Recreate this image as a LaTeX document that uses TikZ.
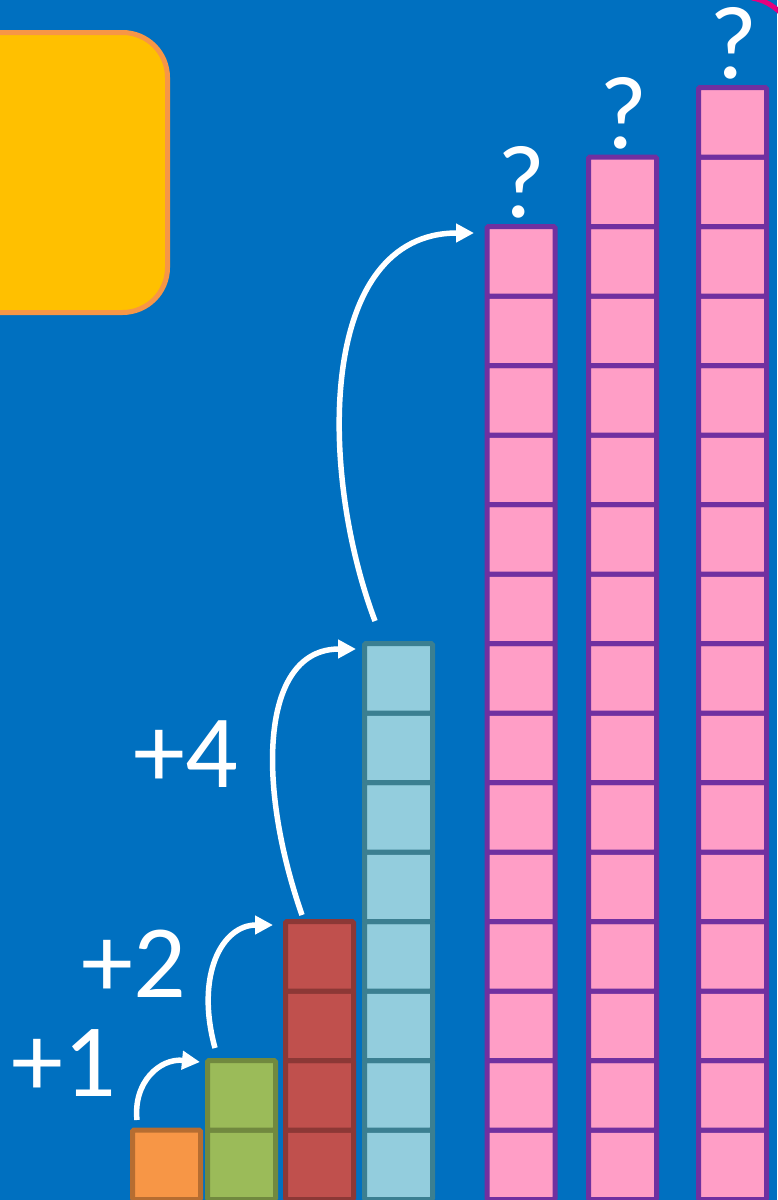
\documentclass[tikz,border=0pt]{standalone}
\usepackage{fontspec}
\setmainfont{Carlito}
\usetikzlibrary{arrows.meta}
\definecolor{bg}{HTML}{0070C0}
\definecolor{ybox}{HTML}{FFC000}
\definecolor{yboxline}{HTML}{F79646}
\definecolor{oF}{HTML}{F79646}\definecolor{oD}{HTML}{B66D31}
\definecolor{gF}{HTML}{9BBB59}\definecolor{gD}{HTML}{71893F}
\definecolor{rF}{HTML}{C0504D}\definecolor{rD}{HTML}{8C3836}
\definecolor{bF}{HTML}{93CDDD}\definecolor{bD}{HTML}{3B7F91}
\definecolor{pF}{HTML}{FF9EC6}\definecolor{pD}{HTML}{7030A0}
\definecolor{corner}{HTML}{E6007E}
\tikzset{
  cellbox/.style={rectangle, minimum width=68pt, minimum height=69.5pt, inner sep=0pt, line width=5pt, rounded corners=1.5pt},
  hop/.style={draw=white, line width=5.5pt, -{Triangle[length=18pt,width=18pt]}},
  bigtext/.style={text=white, inner sep=0pt, font=\fontsize{104}{104}\selectfont},
}
\begin{document}
\begin{tikzpicture}[x=1pt,y=-1pt]
\useasboundingbox (0,0) rectangle (777,1200);
\fill[bg] (0,0) rectangle (777,1200);
% corner of frame
\draw[corner, line width=5pt] (752,-2) .. controls (764,0) and (772,5) .. (781,13);
% yellow box
\draw[fill=ybox, draw=yboxline, line width=5pt, rounded corners=45pt] (-60,32.5) rectangle (167.5,312.5);
% columns
\foreach \name/\cx/\n/\f/\d in {o/166.5/1/oF/oD, g/241.5/2/gF/gD, r/319.5/4/rF/rD, b/398.5/8/bF/bD, pa/521/14/pF/pD, pb/622.5/15/pF/pD, pc/732.5/16/pF/pD}{
  \foreach \k in {1,...,\n}{
    \node[cellbox, fill=\f, draw=\d] (\name\k) at (\cx, {1164.75-69.5*(\k-1)}) {};
  }
}
% labels
\node[bigtext] (l1) at (64,1063.5) {+1};
\node[bigtext] (l2) at (133.5,963.5) {+2};
\node[bigtext] (l4) at (185.5,754) {+4};
\node[bigtext] (q1) at (521.5,182.5) {?};
\node[bigtext] (q2) at (623.5,113) {?};
\node[bigtext] (q3) at (733.5,43.5) {?};
% arrow end points
\coordinate (a1s) at (137,1120);
\coordinate (a1e) at (200,1062);
\coordinate (a2s) at (215,1048);
\coordinate (a2e) at (273,925);
\coordinate (a3s) at (302,915);
\coordinate (a3e) at (356,649);
\coordinate (a4s) at (375,621);
\coordinate (a4e) at (474,233);
\draw[hop] (a1s) .. controls (133,1082) and (160,1058) .. (a1e);
\draw[hop] (a2s) .. controls (195,975) and (222,925) .. (a2e);
\draw[hop] (a3s) .. controls (255,780) and (262,649) .. (a3e);
\draw[hop] (a4s) .. controls (318,470) and (318,233) .. (a4e);
\end{tikzpicture}
\end{document}
